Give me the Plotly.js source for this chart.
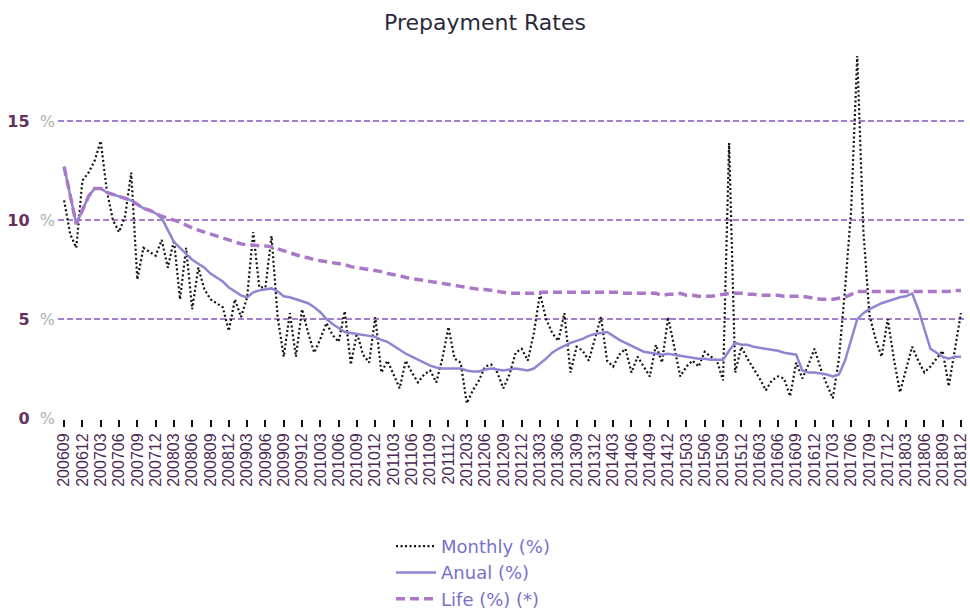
<!DOCTYPE html>
<html>
<head>
<meta charset="utf-8">
<script src="https://cdn.plot.ly/plotly-3.0.1.min.js"></script>
<style>html,body{margin:0;padding:0;background:#fff}#chart{width:970px;height:614px}</style>
</head>
<body>
<div id="chart"></div>
<script>
const months = [
"200609","200610","200611","200612",
"200701","200702","200703","200704","200705","200706","200707","200708","200709","200710","200711","200712",
"200801","200802","200803","200804","200805","200806","200807","200808","200809","200810","200811","200812",
"200901","200902","200903","200904","200905","200906","200907","200908","200909","200910","200911","200912",
"201001","201002","201003","201004","201005","201006","201007","201008","201009","201010","201011","201012",
"201101","201102","201103","201104","201105","201106","201107","201108","201109","201110","201111","201112",
"201201","201202","201203","201204","201205","201206","201207","201208","201209","201210","201211","201212",
"201301","201302","201303","201304","201305","201306","201307","201308","201309","201310","201311","201312",
"201401","201402","201403","201404","201405","201406","201407","201408","201409","201410","201411","201412",
"201501","201502","201503","201504","201505","201506","201507","201508","201509","201510","201511","201512",
"201601","201602","201603","201604","201605","201606","201607","201608","201609","201610","201611","201612",
"201701","201702","201703","201704","201705","201706","201707","201708","201709","201710","201711","201712",
"201801","201802","201803","201804","201805","201806","201807","201808","201809","201810","201811","201812"
];

const tickLabels = [
"200609","200612","200703","200706","200709","200712","200803","200806","200809","200812",
"200903","200906","200909","200912","201003","201006","201009","201012","201103","201106",
"201109","201112","201203","201206","201209","201212","201303","201306","201309","201312",
"201403","201406","201409","201412","201503","201506","201509","201512","201603","201606",
"201609","201612","201703","201706","201709","201712","201803","201806","201809","201812"
];

const monthly = [
11.0, 9.3, 8.6, 12.0, 12.4, 13.0, 14.0, 11.5, 10.0, 9.4, 10.2, 12.4,
7.0, 8.6, 8.4, 8.2, 9.0, 7.6, 9.0, 6.0, 8.6, 5.5, 7.6, 6.5,
6.0, 5.8, 5.6, 4.4, 6.0, 5.1, 6.1, 9.4, 6.6, 6.6, 9.2, 5.1,
3.1, 5.3, 3.1, 5.5, 4.3, 3.3, 4.0, 4.8, 4.2, 3.85, 5.4, 2.7,
4.3, 3.2, 2.8, 5.1, 2.3, 2.9, 2.2, 1.5, 2.9, 2.3, 1.8, 2.2,
2.4, 1.8, 3.0, 4.6, 3.0, 2.8, 0.75, 1.4, 1.9, 2.6, 2.7, 2.3,
1.5, 2.2, 3.3, 3.5, 2.9, 4.3, 6.3, 5.0, 4.3, 3.9, 5.3, 2.3,
3.6, 3.4, 2.9, 4.0, 5.1, 2.9, 2.6, 3.2, 3.5, 2.3, 3.1, 2.6,
2.1, 3.7, 2.8, 5.1, 3.5, 2.1, 2.6, 2.9, 2.6, 3.35, 3.1, 2.9,
1.9, 13.9, 2.3, 3.6, 3.0, 2.5, 2.0, 1.4, 1.9, 2.1, 2.0, 1.1,
2.8, 2.0, 2.7, 3.5, 2.5, 1.7, 1.0, 3.0, 6.5, 10.5, 18.3, 9.5,
5.2, 4.0, 3.1, 5.0, 3.0, 1.3, 2.5, 3.6, 2.9, 2.3, 2.6, 3.0,
3.4, 1.6, 3.5, 5.3
];

const anual = [
12.7, 11.2, 9.8, 10.5, 11.2, 11.6, 11.6, 11.4, 11.3, 11.2, 11.1, 11.0,
10.8, 10.6, 10.5, 10.35, 10.1, 9.5, 8.9, 8.6, 8.3, 8.0, 7.8, 7.6,
7.3, 7.1, 6.9, 6.6, 6.4, 6.2, 6.1, 6.35, 6.45, 6.5, 6.55, 6.4,
6.15, 6.1, 6.0, 5.9, 5.8, 5.6, 5.35, 5.0, 4.75, 4.55, 4.35, 4.3,
4.25, 4.2, 4.15, 4.1, 3.95, 3.85, 3.65, 3.45, 3.25, 3.1, 2.95, 2.8,
2.65, 2.55, 2.5, 2.5, 2.5, 2.5, 2.4, 2.35, 2.35, 2.45, 2.5, 2.45,
2.4, 2.45, 2.5, 2.45, 2.4, 2.5, 2.75, 3.0, 3.3, 3.5, 3.65, 3.8,
3.9, 4.0, 4.15, 4.25, 4.3, 4.35, 4.15, 3.95, 3.8, 3.65, 3.5, 3.35,
3.3, 3.25, 3.2, 3.25, 3.2, 3.15, 3.1, 3.05, 3.0, 3.0, 2.95, 2.95,
2.95, 3.4, 3.8, 3.7, 3.7, 3.6, 3.55, 3.5, 3.45, 3.4, 3.3, 3.25,
3.2, 2.4, 2.3, 2.3, 2.25, 2.2, 2.1, 2.2, 2.9, 4.0, 5.0, 5.3,
5.5, 5.65, 5.8, 5.9, 6.0, 6.1, 6.15, 6.3, 5.5, 4.5, 3.5, 3.3,
3.1, 3.0, 3.1, 3.1
];

const life = [
12.7, 11.2, 9.8, 10.5, 11.2, 11.6, 11.6, 11.4, 11.3, 11.2, 11.1, 11.0,
10.8, 10.6, 10.5, 10.35, 10.2, 10.1, 10.0, 9.9, 9.75, 9.6, 9.5, 9.4,
9.3, 9.2, 9.1, 9.0, 8.9, 8.8, 8.75, 8.75, 8.7, 8.7, 8.65, 8.55,
8.45, 8.35, 8.25, 8.15, 8.1, 8.0, 7.95, 7.9, 7.85, 7.8, 7.75, 7.65,
7.6, 7.55, 7.5, 7.45, 7.4, 7.3, 7.25, 7.2, 7.1, 7.05, 7.0, 6.95,
6.9, 6.85, 6.8, 6.75, 6.7, 6.65, 6.6, 6.55, 6.5, 6.5, 6.45, 6.4,
6.35, 6.3, 6.3, 6.3, 6.3, 6.3, 6.35, 6.35, 6.35, 6.35, 6.35, 6.35,
6.35, 6.35, 6.35, 6.35, 6.35, 6.35, 6.35, 6.35, 6.3, 6.3, 6.3, 6.3,
6.3, 6.3, 6.2, 6.25, 6.25, 6.3, 6.2, 6.2, 6.15, 6.15, 6.15, 6.2,
6.25, 6.3, 6.3, 6.3, 6.25, 6.25, 6.2, 6.2, 6.2, 6.2, 6.15, 6.15,
6.15, 6.15, 6.1, 6.05, 6.0, 6.0, 6.0, 6.05, 6.1, 6.25, 6.4, 6.4,
6.4, 6.4, 6.4, 6.4, 6.4, 6.4, 6.4, 6.4, 6.4, 6.4, 6.4, 6.4,
6.4, 6.4, 6.45, 6.45
];

const yTickVals = [0, 5, 10, 15];
const yTickText = ["0", "5", "10", "15"];

const traces = [
  {x: months, y: monthly, type: 'scatter', mode: 'lines', name: 'Monthly (%)',
   line: {color: '#111111', width: 2.2, dash: '2px,2.5px'}},
  {x: months, y: anual, type: 'scatter', mode: 'lines', name: 'Anual (%)',
   line: {color: '#8d86d2', width: 2.5}},
  {x: months, y: life, type: 'scatter', mode: 'lines', name: 'Life (%) (*)',
   line: {color: '#ab78c8', width: 3.5, dash: '9px,5px'}}
];

const layout = {
  width: 970, height: 614,
  margin: {l: 58, r: 6, t: 50, b: 195, autoexpand: false},
  paper_bgcolor: '#ffffff', plot_bgcolor: '#ffffff',
  showlegend: true,
  title: {text: 'Prepayment Rates', x: 0.5, xanchor: 'center', y: 0.995, yanchor: 'top',
          pad: {t: 12},
          font: {family: 'DejaVu Sans', size: 22, color: '#2a2a3a'}},
  xaxis: {
    type: 'category', range: [-1, 147.5], automargin: false,
    tickmode: 'array', tickvals: tickLabels, ticktext: tickLabels,
    tickangle: -90, ticks: 'outside', ticklen: 7, tickwidth: 2, tickcolor: '#111111',
    showgrid: false, zeroline: false, showline: false,
    tickfont: {family: 'Liberation Sans', size: 16, color: '#4b2a55'}
  },
  yaxis: {
    range: [-0.05, 18.6], tickmode: 'array', tickvals: yTickVals, automargin: false,
    ticktext: yTickText.map(t => '<b>' + t + '</b>  <span style="color:#b0b0b0;font-weight:normal">%</span>'),
    showgrid: true, gridcolor: '#a083cc', gridwidth: 2, griddash: '6px,3px',
    zeroline: false, showline: false, ticks: '', ticklabelstandoff: 2,
    tickfont: {family: 'DejaVu Sans', size: 16, color: '#66305f'}
  },
  legend: {
    orientation: 'v', x: 0.3676, xanchor: 'left', y: -0.295, yanchor: 'top',
    font: {family: 'DejaVu Sans', size: 18, color: '#7a70cc'},
    bgcolor: 'rgba(0,0,0,0)', tracegroupgap: 0, itemwidth: 40
  }
};

Plotly.newPlot('chart', traces, layout, {staticPlot: true, displayModeBar: false});
</script>
</body>
</html>
